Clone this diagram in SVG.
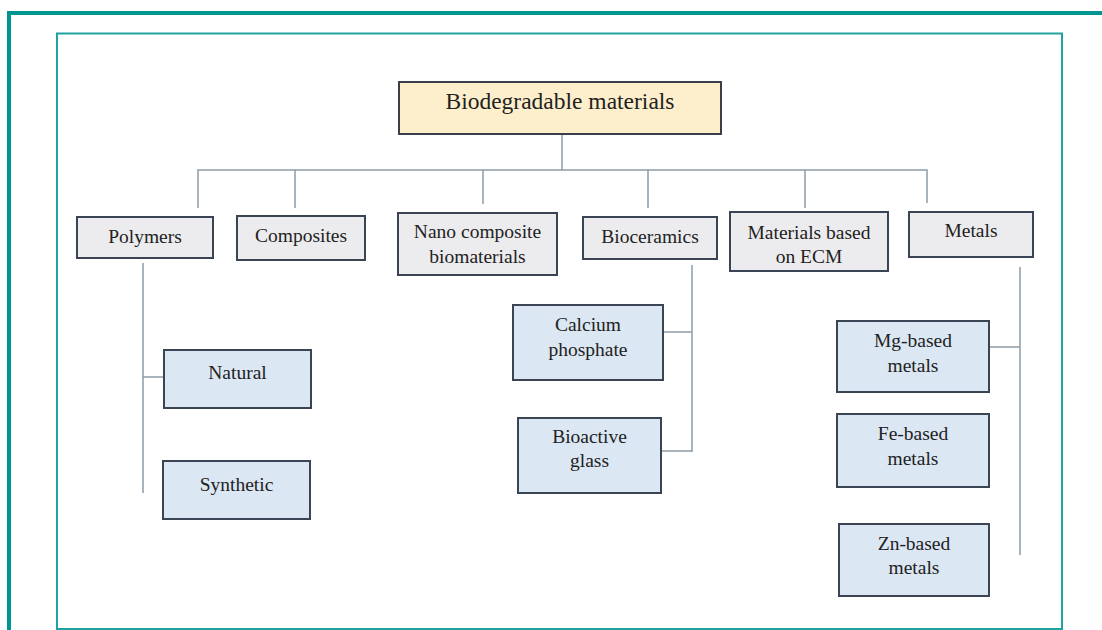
<svg xmlns="http://www.w3.org/2000/svg" width="1102" height="630" viewBox="0 0 1102 630">
<style>
.frame{fill:none;stroke:#009590;stroke-width:4}
.inner{fill:none;stroke:#1fa3a0;stroke-width:2}
.root{fill:#fdefcc;stroke:#3a3f48;stroke-width:2}
.cat{fill:#ececee;stroke:#3b4454;stroke-width:2}
.sub{fill:#dce7f4;stroke:#3b4454;stroke-width:2}
.conn{fill:none;stroke:#8e9ca8;stroke-width:1.5}
.t{font-family:"Liberation Serif","DejaVu Serif",serif;fill:#222;text-anchor:middle;font-size:19.5px}
.rt{font-size:23.5px}
</style>
<rect width="1102" height="630" fill="#fff"/>
<path class="frame" d="M9 630 V13 H1102"/>
<rect class="inner" x="57" y="33.5" width="1005" height="595.5"/>
<g id="connectors">
<path class="conn" d="M562 134 V170 M198 208 V170 H927 V203 M295 170 V208 M483 170 V204 M648 170 V208 M805 170 V208"/>
<path class="conn" d="M143 263 V493 M143 377 H164"/>
<path class="conn" d="M692 265 V452 M662 332 H692 M661 451 H692"/>
<path class="conn" d="M1020 267 V555 M989 347 H1020"/>
</g>
<g id="root"><rect class="root" x="399" y="82" width="322" height="52"/><text class="t rt" x="560" y="109">Biodegradable materials</text></g>
<g id="polymers"><rect class="cat" x="77" y="217" width="136" height="41"/><text class="t" x="145" y="243">Polymers</text></g>
<g id="composites"><rect class="cat" x="237" y="216" width="128" height="44"/><text class="t" x="301" y="242">Composites</text></g>
<g id="nano"><rect class="cat" x="398" y="213" width="159" height="62"/><text class="t" x="477.5" y="238">Nano composite</text><text class="t" x="477.5" y="263">biomaterials</text></g>
<g id="bioceramics"><rect class="cat" x="583" y="217" width="134" height="42"/><text class="t" x="650" y="243">Bioceramics</text></g>
<g id="ecm"><rect class="cat" x="730" y="212" width="158" height="59"/><text class="t" x="809" y="239">Materials based</text><text class="t" x="809" y="263">on ECM</text></g>
<g id="metals"><rect class="cat" x="909" y="212" width="124" height="45"/><text class="t" x="971" y="237">Metals</text></g>
<g id="natural"><rect class="sub" x="164" y="350" width="147" height="58"/><text class="t" x="237.5" y="379">Natural</text></g>
<g id="synthetic"><rect class="sub" x="163" y="461" width="147" height="58"/><text class="t" x="236.5" y="491">Synthetic</text></g>
<g id="calcium"><rect class="sub" x="513" y="305" width="150" height="75"/><text class="t" x="588" y="331">Calcium</text><text class="t" x="588" y="356">phosphate</text></g>
<g id="bioactive"><rect class="sub" x="518" y="418" width="143" height="75"/><text class="t" x="589.5" y="443">Bioactive</text><text class="t" x="589.5" y="467">glass</text></g>
<g id="mg"><rect class="sub" x="837" y="321" width="152" height="71"/><text class="t" x="913" y="347">Mg-based</text><text class="t" x="913" y="372">metals</text></g>
<g id="fe"><rect class="sub" x="837" y="414" width="152" height="73"/><text class="t" x="913" y="440">Fe-based</text><text class="t" x="913" y="465">metals</text></g>
<g id="zn"><rect class="sub" x="839" y="524" width="150" height="72"/><text class="t" x="914" y="550">Zn-based</text><text class="t" x="914" y="574">metals</text></g>
</svg>
